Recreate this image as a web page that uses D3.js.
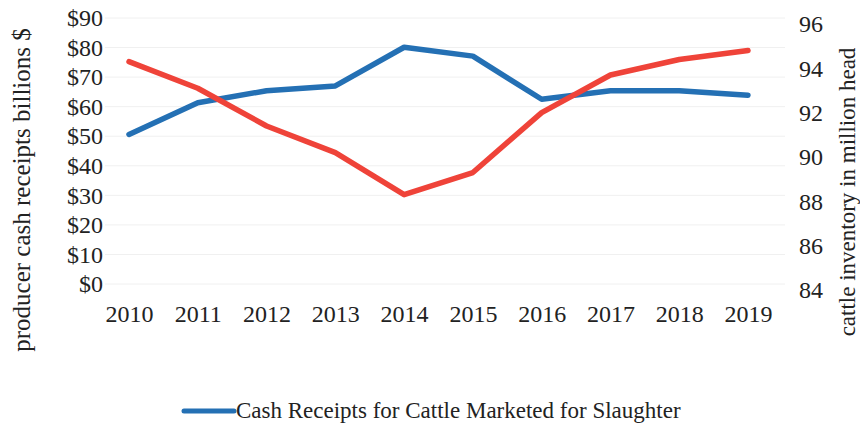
<!DOCTYPE html>
<html>
<head>
<meta charset="utf-8">
<script src="https://cdn.jsdelivr.net/npm/d3@7"></script>
<style>
  body { margin: 0; background: #fff; }
  svg text { font-family: "Liberation Serif", "Times New Roman", serif; fill: #222; }
</style>
</head>
<body>
<svg id="chart"></svg>
<script>
/////////////////////////////////
// DATA
/////////////////////////////////

var years = ["2010", "2011", "2012", "2013", "2014", "2015", "2016", "2017", "2018", "2019"];

// cash receipts, billions $ (left axis)
var receipts = [50.6, 61.3, 65.4, 67.0, 80.1, 77.1, 62.5, 65.4, 65.4, 63.9];

// cattle inventory, million head (right axis)
var inventory = [94.3, 93.1, 91.4, 90.2, 88.3, 89.3, 92.0, 93.7, 94.4, 94.8];

var leftTicks = [0, 10, 20, 30, 40, 50, 60, 70, 80, 90];
var rightTicks = [84, 86, 88, 90, 92, 94, 96];

var legendLabel = "Cash Receipts for Cattle Marketed for Slaughter";

/////////////////////////////////
// SETUP
/////////////////////////////////

var width = 860;
var height = 431;

var svg = d3.select("#chart")
    .attr("width", width)
    .attr("height", height);

var x = d3.scalePoint()
    .domain(years)
    .range([129, 748]);

var yLeft = d3.scaleLinear()
    .domain([0, 90])
    .range([284, 18]);

var yRight = d3.scaleLinear()
    .domain([84, 96])
    .range([290, 24]);

/////////////////////////////////
// GRIDLINES
/////////////////////////////////

svg.append("g")
    .selectAll("line")
    .data(leftTicks)
    .enter().append("line")
    .attr("x1", 105)
    .attr("x2", 785)
    .attr("y1", function(d) { return yLeft(d); })
    .attr("y2", function(d) { return yLeft(d); })
    .attr("stroke", "#f0f0f0")
    .attr("stroke-width", 1);

/////////////////////////////////
// AXES
/////////////////////////////////

var leftAxis = svg.append("g")
    .attr("transform", "translate(103,0)")
    .call(d3.axisLeft(yLeft).tickValues(leftTicks).tickSize(0).tickPadding(0)
        .tickFormat(function(d) { return "$" + d; }));

var rightAxis = svg.append("g")
    .attr("transform", "translate(799,0)")
    .call(d3.axisRight(yRight).tickValues(rightTicks).tickSize(0).tickPadding(0));

var bottomAxis = svg.append("g")
    .attr("transform", "translate(0,305)")
    .call(d3.axisBottom(x).tickSize(0).tickPadding(0));

[leftAxis, rightAxis, bottomAxis].forEach(function(a) {
    a.select(".domain").remove();
    a.selectAll("text")
        .style("font-family", "'Liberation Serif', 'Times New Roman', serif")
        .style("font-size", "24px")
        .attr("fill", "#222");
});

// axis titles
svg.append("text")
    .attr("transform", "translate(30,190) rotate(-90)")
    .attr("text-anchor", "middle")
    .style("font-size", "25px")
    .text("producer cash receipts billions $");

svg.append("text")
    .attr("transform", "translate(855,192) rotate(-90)")
    .attr("text-anchor", "middle")
    .style("font-size", "23px")
    .text("cattle inventory in million head");

/////////////////////////////////
// LINES
/////////////////////////////////

var lineLeft = d3.line()
    .x(function(d, i) { return x(years[i]); })
    .y(function(d) { return yLeft(d); });

var lineRight = d3.line()
    .x(function(d, i) { return x(years[i]); })
    .y(function(d) { return yRight(d); });

svg.append("path")
    .datum(receipts)
    .attr("d", lineLeft)
    .attr("fill", "none")
    .attr("stroke", "#2470b4")
    .attr("stroke-width", 5.5)
    .attr("stroke-linecap", "round")
    .attr("stroke-linejoin", "round");

svg.append("path")
    .datum(inventory)
    .attr("d", lineRight)
    .attr("fill", "none")
    .attr("stroke", "#ef4339")
    .attr("stroke-width", 5.5)
    .attr("stroke-linecap", "round")
    .attr("stroke-linejoin", "round");

/////////////////////////////////
// LEGEND
/////////////////////////////////

var legend = svg.append("g").attr("transform", "translate(184,411)");

legend.append("line")
    .attr("x1", 0)
    .attr("x2", 50)
    .attr("stroke", "#2470b4")
    .attr("stroke-width", 5)
    .attr("stroke-linecap", "round");

legend.append("text")
    .attr("x", 52)
    .attr("y", 7)
    .style("font-size", "23px")
    .text(legendLabel);
</script>
</body>
</html>
